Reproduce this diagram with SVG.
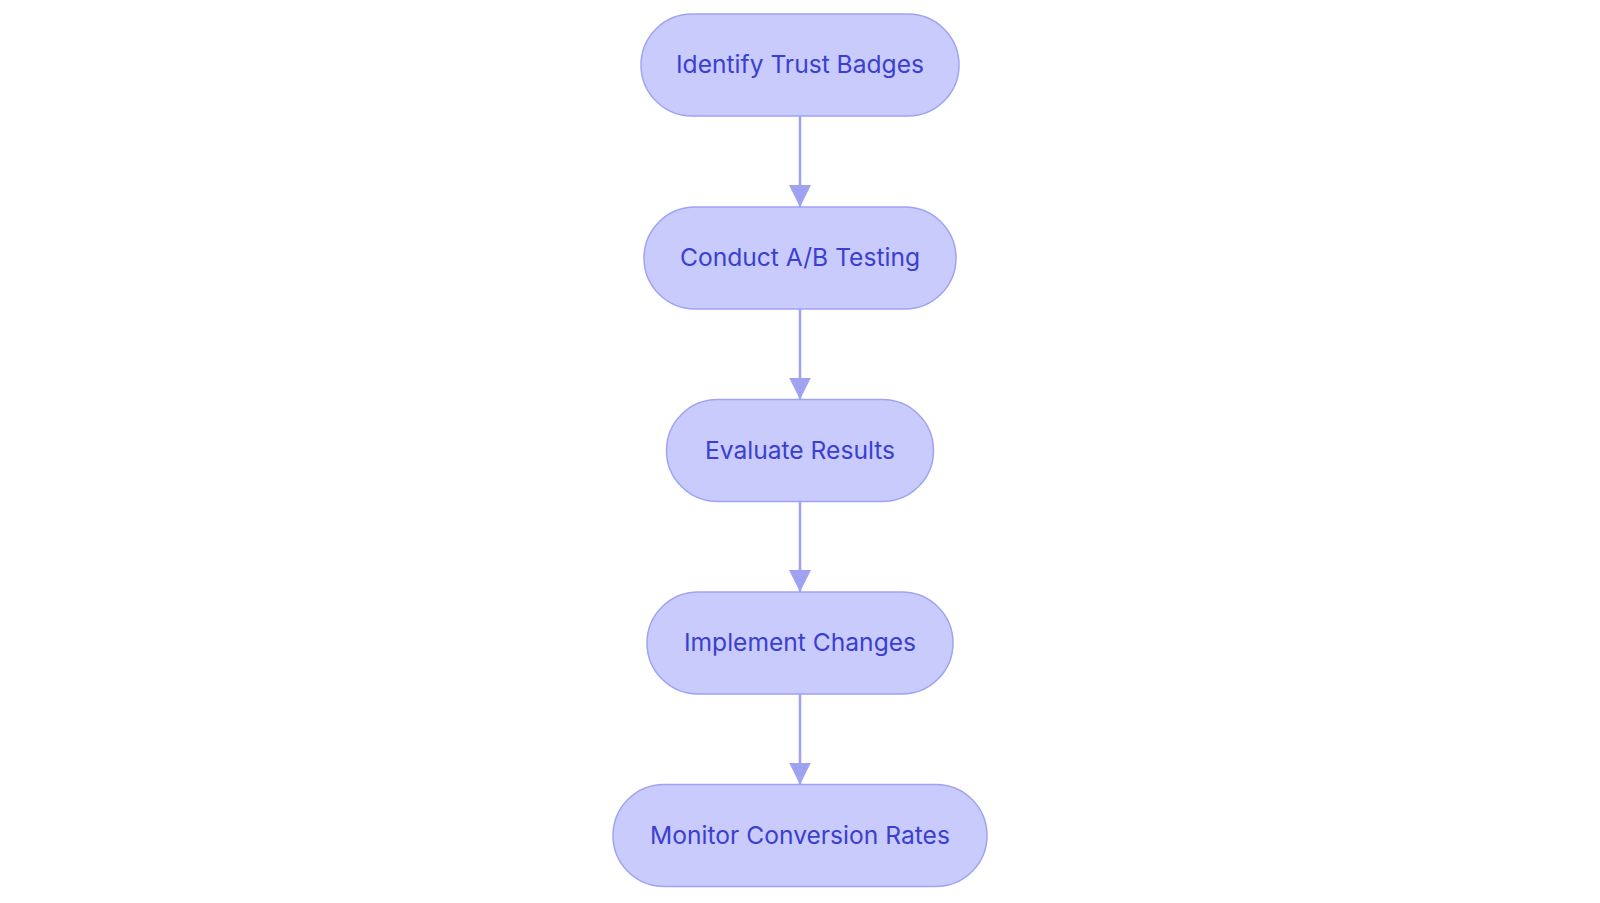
<svg xmlns="http://www.w3.org/2000/svg" width="1600" height="903" viewBox="0 0 1600 903">
<style>
.node rect{fill:#c9cbfc;stroke:#9ea3f3;stroke-width:1.5}
.node text{font-family:"Inter","Noto Sans",sans-serif;font-size:24.6px;fill:#3a3fd0;text-anchor:middle}
.edge{stroke:#9ea2f0;stroke-width:2.6;fill:none}
</style>
<defs>
<marker id="ah" viewBox="0 0 22 22" refX="22" refY="11" markerWidth="22" markerHeight="22" markerUnits="userSpaceOnUse" orient="auto">
<path d="M0,0 L22,11 L0,22 z" fill="#9ea2f0"/>
</marker>
</defs>
<rect width="1600" height="903" fill="#ffffff"/>
<g id="edges">
<path class="edge" d="M800,116 L800,207" marker-end="url(#ah)"/>
<path class="edge" d="M800,309 L800,399.5" marker-end="url(#ah)"/>
<path class="edge" d="M800,501.5 L800,592" marker-end="url(#ah)"/>
<path class="edge" d="M800,694 L800,784.5" marker-end="url(#ah)"/>
</g>
<g id="n1" class="node"><rect x="641" y="14" width="318" height="102" rx="51"/><text x="800" y="73">Identify Trust Badges</text></g>
<g id="n2" class="node"><rect x="644" y="207" width="312" height="102" rx="51"/><text x="800" y="266">Conduct A/B Testing</text></g>
<g id="n3" class="node"><rect x="666.5" y="399.5" width="267" height="102" rx="51"/><text x="800" y="458.5">Evaluate Results</text></g>
<g id="n4" class="node"><rect x="647" y="592" width="306" height="102" rx="51"/><text x="800" y="651">Implement Changes</text></g>
<g id="n5" class="node"><rect x="613" y="784.5" width="374" height="102" rx="51"/><text x="800" y="843.5">Monitor Conversion Rates</text></g>
</svg>
